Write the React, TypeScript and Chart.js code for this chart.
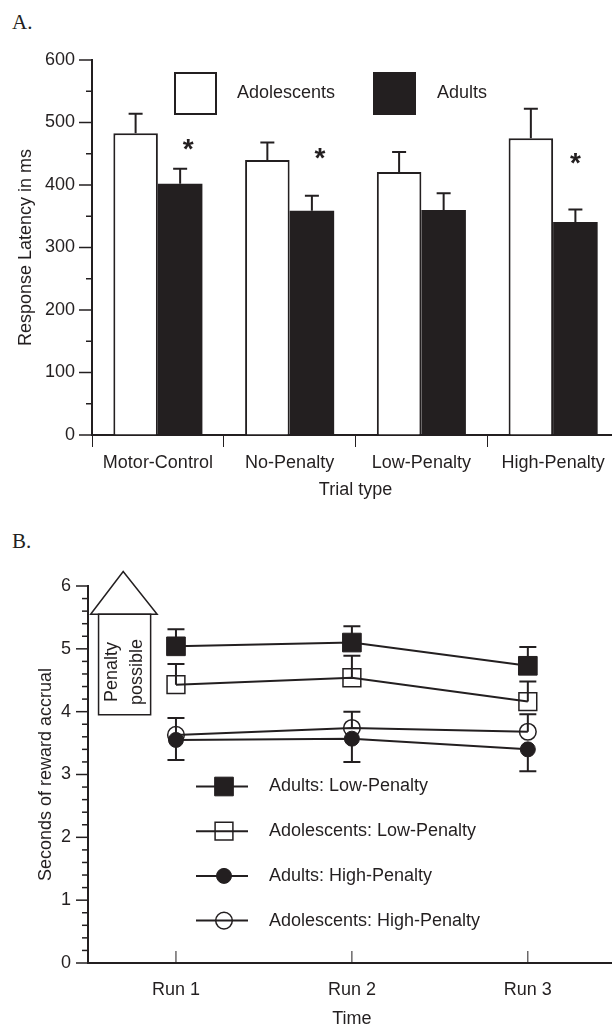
import React, { useEffect, useRef } from 'react';
import { Chart, registerables } from 'chart.js';

Chart.register(...registerables);

const INK = '#231f20';
const FONT = "'Liberation Sans', Arial, Helvetica, sans-serif";

// ---------- Panel A data ----------
const trialTypes = ['Motor-Control', 'No-Penalty', 'Low-Penalty', 'High-Penalty'];
const adolescentLatency = [483, 440, 421, 475];
const adolescentLatencySE = [31, 28, 32, 47];
const adultLatency = [402, 359, 360, 341];
const adultLatencySE = [24, 24, 27, 20];
const latencyAxisMin = 0;
const latencyAxisMax = 600;
const latencyMajorStep = 100;
const latencyMinorStep = 50;
// significance markers: category position (index units) and latency level
const asteriskCategory = [0.23, 1.23, 3.17];
const asteriskLatency = [469, 454, 446];

// ---------- Panel B data ----------
const runs = ['Run 1', 'Run 2', 'Run 3'];
const adultsLowPenalty = [5.04, 5.1, 4.73];
const adultsLowPenaltySE = [0.27, 0.26, 0.3];
const adolescentsLowPenalty = [4.43, 4.54, 4.16];
const adolescentsLowPenaltySE = [0.33, 0.35, 0.32];
const adultsHighPenalty = [3.55, 3.57, 3.4];
const adultsHighPenaltySE = [0.32, 0.37, 0.35];
const adolescentsHighPenalty = [3.63, 3.74, 3.68];
const adolescentsHighPenaltySE = [0.27, 0.26, 0.28];
const accrualAxisMin = 0;
const accrualAxisMax = 6;
const accrualMinorStep = 0.2;

// "Penalty possible" arrow annotation (x in run-index units, y in seconds)
const arrowApex = { x: -0.3, y: 6.23 };
const arrowBase = { left: -0.485, right: -0.107, y: 5.55 };
const arrowShaft = { left: -0.44, right: -0.144, bottom: 3.95 };
const arrowText = [
  { text: 'Penalty', x: -0.365, y: 4.63 },
  { text: 'possible', x: -0.219, y: 4.63 },
];

function drawMarker(ctx: CanvasRenderingContext2D, style: string, x: number, y: number, r: number, fill: string, stroke: string, bw: number) {
  ctx.save();
  ctx.beginPath();
  if (style === 'rect') {
    const s = Math.SQRT1_2 * r;
    ctx.rect(x - s, y - s, 2 * s, 2 * s);
  } else {
    ctx.arc(x, y, r, 0, Math.PI * 2);
  }
  ctx.fillStyle = fill;
  ctx.fill();
  if (bw > 0) {
    ctx.lineWidth = bw;
    ctx.strokeStyle = stroke;
    ctx.stroke();
  }
  ctx.restore();
}

const panelAPlugin = {
  id: 'panelADecor',
  afterDatasetsDraw(chart: any) {
    const ctx: CanvasRenderingContext2D = chart.ctx;
    const yS = chart.scales.y;
    const xS = chart.scales.x;
    const area = chart.chartArea;
    const errs = [adolescentLatencySE, adultLatencySE];
    ctx.save();
    ctx.strokeStyle = INK;
    ctx.lineWidth = 2;
    chart.data.datasets.forEach((ds: any, di: number) => {
      const meta = chart.getDatasetMeta(di);
      meta.data.forEach((bar: any, i: number) => {
        const topPx = yS.getPixelForValue(ds.data[i] + errs[di][i]);
        ctx.beginPath();
        ctx.moveTo(bar.x, bar.y);
        ctx.lineTo(bar.x, topPx);
        ctx.moveTo(bar.x - 7, topPx);
        ctx.lineTo(bar.x + 7, topPx);
        ctx.stroke();
      });
    });
    // asterisks
    ctx.fillStyle = INK;
    const aSize = 28;
    ctx.font = `bold ${aSize}px ${FONT}`;
    ctx.textAlign = 'center';
    ctx.textBaseline = 'alphabetic';
    asteriskCategory.forEach((c, i) => {
      const x = xS.getPixelForValue(c);
      const y = yS.getPixelForValue(asteriskLatency[i]);
      ctx.fillText('*', x, y + 0.57 * aSize);
    });
    // y ticks (major / minor)
    ctx.lineWidth = 1.5;
    for (let v = latencyAxisMin; v <= latencyAxisMax; v += latencyMinorStep) {
      const y = yS.getPixelForValue(v);
      const len = v % latencyMajorStep === 0 ? 13 : 6;
      ctx.beginPath();
      ctx.moveTo(area.left - len, y);
      ctx.lineTo(area.left, y);
      ctx.stroke();
    }
    // legend
    const box = 43;
    const ly = area.top + 12;
    const items = [
      { ds: chart.data.datasets[0], bx: area.left + 82, tx: area.left + 145 },
      { ds: chart.data.datasets[1], bx: area.left + 281, tx: area.left + 345 },
    ];
    ctx.font = `18px ${FONT}`;
    ctx.textAlign = 'left';
    ctx.textBaseline = 'middle';
    items.forEach(({ ds, bx, tx }) => {
      ctx.fillStyle = ds.backgroundColor;
      ctx.fillRect(bx, ly, box, box);
      ctx.lineWidth = 2;
      ctx.strokeStyle = INK;
      ctx.strokeRect(bx + 1, ly + 1, box - 2, box - 2);
      ctx.fillStyle = INK;
      ctx.fillText(ds.label, tx, ly + box / 2);
    });
    ctx.restore();
  },
};

const bSeriesErrors = [
  { se: adultsLowPenaltySE, dir: 1 },
  { se: adolescentsLowPenaltySE, dir: 1 },
  { se: adultsHighPenaltySE, dir: -1 },
  { se: adolescentsHighPenaltySE, dir: 1 },
];

const panelBPlugin = {
  id: 'panelBDecor',
  beforeDatasetsDraw(chart: any) {
    const ctx: CanvasRenderingContext2D = chart.ctx;
    const yS = chart.scales.y;
    const xS = chart.scales.x;
    ctx.save();
    ctx.strokeStyle = INK;
    ctx.lineWidth = 2;
    chart.data.datasets.forEach((ds: any, di: number) => {
      const { se, dir } = bSeriesErrors[di];
      ds.data.forEach((v: number, i: number) => {
        const x = xS.getPixelForValue(i);
        const y0 = yS.getPixelForValue(v);
        const y1 = yS.getPixelForValue(v + dir * se[i]);
        ctx.beginPath();
        ctx.moveTo(x, y0);
        ctx.lineTo(x, y1);
        ctx.moveTo(x - 8.5, y1);
        ctx.lineTo(x + 8.5, y1);
        ctx.stroke();
      });
    });
    ctx.restore();
  },
  afterDraw(chart: any) {
    const ctx: CanvasRenderingContext2D = chart.ctx;
    const yS = chart.scales.y;
    const xS = chart.scales.x;
    const area = chart.chartArea;
    ctx.save();
    ctx.strokeStyle = INK;
    // y ticks
    ctx.lineWidth = 1.5;
    const n = Math.round((accrualAxisMax - accrualAxisMin) / accrualMinorStep);
    for (let k = 0; k <= n; k++) {
      const v = accrualAxisMin + k * accrualMinorStep;
      const y = yS.getPixelForValue(v);
      const len = k % 5 === 0 ? 12 : 6;
      ctx.beginPath();
      ctx.moveTo(area.left - len, y);
      ctx.lineTo(area.left, y);
      ctx.stroke();
    }
    // x ticks (inward)
    ctx.lineWidth = 1;
    runs.forEach((_, i) => {
      const x = xS.getPixelForValue(i);
      ctx.beginPath();
      ctx.moveTo(x, area.bottom);
      ctx.lineTo(x, area.bottom - 12);
      ctx.stroke();
    });
    // arrow annotation
    ctx.lineWidth = 1.5;
    ctx.fillStyle = '#ffffff';
    ctx.beginPath();
    ctx.moveTo(xS.getPixelForValue(arrowBase.left), yS.getPixelForValue(arrowBase.y));
    ctx.lineTo(xS.getPixelForValue(arrowApex.x), yS.getPixelForValue(arrowApex.y));
    ctx.lineTo(xS.getPixelForValue(arrowBase.right), yS.getPixelForValue(arrowBase.y));
    ctx.closePath();
    ctx.fill();
    ctx.stroke();
    const sl = xS.getPixelForValue(arrowShaft.left);
    const sr = xS.getPixelForValue(arrowShaft.right);
    const st = yS.getPixelForValue(arrowBase.y);
    const sb = yS.getPixelForValue(arrowShaft.bottom);
    ctx.beginPath();
    ctx.rect(sl, st, sr - sl, sb - st);
    ctx.fill();
    ctx.stroke();
    ctx.fillStyle = INK;
    ctx.font = `18px ${FONT}`;
    ctx.textAlign = 'center';
    ctx.textBaseline = 'middle';
    arrowText.forEach((t) => {
      ctx.save();
      ctx.translate(xS.getPixelForValue(t.x), yS.getPixelForValue(t.y));
      ctx.rotate(-Math.PI / 2);
      ctx.fillText(t.text, 0, 0);
      ctx.restore();
    });
    // legend
    const lx0 = area.left + 108;
    const lx1 = area.left + 160;
    const mx = area.left + 136;
    const tx = area.left + 181;
    ctx.textAlign = 'left';
    chart.data.datasets.forEach((ds: any, i: number) => {
      const y = area.top + 200.5 + i * 44.7;
      ctx.strokeStyle = INK;
      ctx.lineWidth = 2;
      ctx.beginPath();
      ctx.moveTo(lx0, y);
      ctx.lineTo(lx1, y);
      ctx.stroke();
      drawMarker(ctx, ds.pointStyle, mx, y, ds.pointRadius, ds.pointBackgroundColor, ds.pointBorderColor, ds.pointBorderWidth);
      ctx.fillStyle = INK;
      ctx.fillText(ds.label, tx, y);
    });
    ctx.restore();
  },
};

export default function App() {
  const refA = useRef<HTMLCanvasElement>(null);
  const refB = useRef<HTMLCanvasElement>(null);

  useEffect(() => {
    Chart.defaults.font.family = FONT;
    Chart.defaults.font.size = 18;
    Chart.defaults.color = INK;

    const chartA = new Chart(refA.current!, {
      type: 'bar',
      data: {
        labels: trialTypes,
        datasets: [
          {
            label: 'Adolescents',
            data: adolescentLatency,
            backgroundColor: '#ffffff',
            borderColor: INK,
            borderWidth: 2,
            categoryPercentage: 0.676,
            barPercentage: 1,
          },
          {
            label: 'Adults',
            data: adultLatency,
            backgroundColor: INK,
            borderColor: INK,
            borderWidth: 0,
            categoryPercentage: 0.676,
            barPercentage: 1,
          },
        ],
      },
      options: {
        responsive: false,
        animation: false,
        layout: { padding: { top: 60, left: 0, right: 1, bottom: 0 } },
        plugins: { legend: { display: false }, tooltip: { enabled: false }, title: { display: false } },
        scales: {
          x: {
            offset: true,
            grid: { display: true, offset: true, drawOnChartArea: false, drawTicks: true, tickLength: 12, tickColor: INK, tickWidth: 1 },
            border: { display: true, color: INK, width: 2 },
            ticks: { padding: 5, color: INK, font: { size: 18 }, maxRotation: 0, autoSkip: false },
            title: { display: true, text: 'Trial type', color: INK, font: { size: 18 }, padding: { top: 0, bottom: 4 } },
            afterFit: (s: any) => { s.height = 70; },
          },
          y: {
            min: latencyAxisMin,
            max: latencyAxisMax,
            grid: { display: true, drawOnChartArea: false, drawTicks: true, tickLength: 13, tickColor: 'rgba(0,0,0,0)' },
            border: { display: true, color: INK, width: 2 },
            ticks: {
              stepSize: latencyMinorStep,
              autoSkip: false,
              padding: 4,
              color: INK,
              font: { size: 18 },
              callback: (v: any) => (Number(v) % latencyMajorStep === 0 ? String(v) : ''),
            },
            title: { display: true, text: 'Response Latency in ms', color: INK, font: { size: 18 }, padding: { top: 15, bottom: 0 } },
            afterFit: (s: any) => { s.width = 92; },
          },
        },
      },
      plugins: [panelAPlugin],
    } as any);

    const mk = (label: string, data: number[], style: string, r: number, fill: string, bw: number) => ({
      label,
      data,
      borderColor: INK,
      borderWidth: 2,
      backgroundColor: fill,
      fill: false,
      tension: 0,
      clip: false,
      pointStyle: style,
      pointRadius: r,
      pointBackgroundColor: fill,
      pointBorderColor: INK,
      pointBorderWidth: bw,
    });

    const chartB = new Chart(refB.current!, {
      type: 'line',
      data: {
        labels: runs,
        datasets: [
          mk('Adults: Low-Penalty', adultsLowPenalty, 'rect', 13.2, INK, 1),
          mk('Adolescents: Low-Penalty', adolescentsLowPenalty, 'rect', 12.6, 'rgba(255,255,255,0)', 1.5),
          mk('Adults: High-Penalty', adultsHighPenalty, 'circle', 7.5, INK, 1),
          mk('Adolescents: High-Penalty', adolescentsHighPenalty, 'circle', 8.3, 'rgba(255,255,255,0)', 1.5),
        ],
      },
      options: {
        responsive: false,
        animation: false,
        layout: { padding: { top: 81, left: 0, right: 0, bottom: 0 } },
        plugins: { legend: { display: false }, tooltip: { enabled: false }, title: { display: false } },
        scales: {
          x: {
            offset: true,
            grid: { display: false, drawTicks: false },
            border: { display: true, color: INK, width: 2 },
            ticks: { padding: 16, color: INK, font: { size: 18 }, maxRotation: 0, autoSkip: false },
            title: { display: true, text: 'Time', color: INK, font: { size: 18 }, padding: { top: 0, bottom: 15 } },
            afterFit: (s: any) => { s.height = 82; },
          },
          y: {
            min: accrualAxisMin,
            max: accrualAxisMax,
            grid: { display: true, drawOnChartArea: false, drawTicks: true, tickLength: 12, tickColor: 'rgba(0,0,0,0)' },
            border: { display: true, color: INK, width: 2 },
            ticks: {
              stepSize: accrualMinorStep,
              autoSkip: false,
              padding: 5,
              color: INK,
              font: { size: 18 },
              callback: (v: any) => {
                const n = Number(v);
                return Math.abs(n - Math.round(n)) < 1e-6 ? String(Math.round(n)) : '';
              },
            },
            title: { display: true, text: 'Seconds of reward accrual', color: INK, font: { size: 18 }, padding: { top: 35, bottom: 0 } },
            afterFit: (s: any) => { s.width = 88; },
          },
        },
      },
      plugins: [panelBPlugin],
    } as any);

    return () => {
      chartA.destroy();
      chartB.destroy();
    };
  }, []);

  const panelLabel: React.CSSProperties = {
    position: 'absolute',
    left: 12,
    fontFamily: "'Liberation Serif', 'Times New Roman', serif",
    fontSize: 21,
    lineHeight: '21px',
    color: INK,
    margin: 0,
  };

  return (
    <div style={{ position: 'absolute', left: 0, top: 0, width: 612, height: 1024, overflow: 'hidden', background: '#ffffff' }}>
      <div style={{ ...panelLabel, top: 12 }}>A.</div>
      <canvas ref={refA} width={620} height={505} style={{ position: 'absolute', left: 0, top: 0, display: 'block' }} />
      <div style={{ ...panelLabel, top: 531 }}>B.</div>
      <canvas ref={refB} width={630} height={540} style={{ position: 'absolute', left: 0, top: 505, display: 'block' }} />
    </div>
  );
}
